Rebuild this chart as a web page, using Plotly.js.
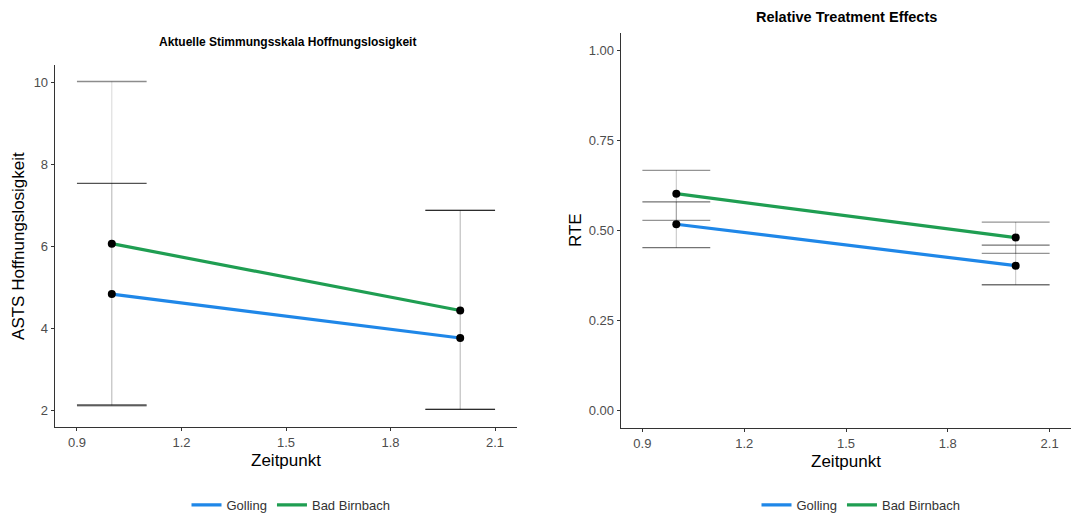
<!DOCTYPE html>
<html>
<head>
<meta charset="utf-8">
<script src="https://cdn.plot.ly/plotly-3.0.1.min.js"></script>
<style>html,body{margin:0;padding:0;background:#fff;}#chart{width:1081px;height:520px;}</style>
</head>
<body>
<div id="chart"></div>
<script>
// ---- data ----
const zeitpunkt = [1, 2];
const groups = ["Golling", "Bad Birnbach"];
// ASTS Hoffnungslosigkeit
const astsGolling = [4.84, 3.77];
const astsGollingLow = [2.14, 2.03];
const astsGollingHigh = [7.54, 6.88];
const astsBB = [6.07, 4.44];
const astsBBLow = [2.12, 2.03];
const astsBBHigh = [10.02, 6.88];
// Relative Treatment Effects
const rteGolling = [0.516, 0.401];
const rteGollingLow = [0.451, 0.348];
const rteGollingHigh = [0.578, 0.458];
const rteBB = [0.601, 0.479];
const rteBBLow = [0.527, 0.435];
const rteBBHigh = [0.666, 0.522];
const xTicks = [0.9, 1.2, 1.5, 1.8, 2.1];
const astsTicks = [2, 4, 6, 8, 10];
const rteTicks = [0, 0.25, 0.5, 0.75, 1.0];

const capHalf = 0.1;
const blue = "#1f87e8";
const green = "#1f9e52";
const font = "Liberation Sans, Arial, sans-serif";

// vertical part of the error bar (no caps)
function errTrace(y, lo, hi, xa, ya, color) {
  return {
    x: zeitpunkt, y: y, xaxis: xa, yaxis: ya, type: "scatter", mode: "markers",
    marker: {size: 1, color: "rgba(0,0,0,0)"}, showlegend: false, hoverinfo: "skip",
    error_y: {type: "data", symmetric: false,
      array: hi.map((v, i) => v - y[i]), arrayminus: y.map((v, i) => v - lo[i]),
      color: color, thickness: 1.1, width: 0}
  };
}
// caps of the error bar, built from the data arrays
function capTrace(lo, hi, xa, ya, color) {
  const xs = [], ys = [];
  zeitpunkt.forEach((xv, i) => {
    [lo[i], hi[i]].forEach(v => {
      xs.push(xv - capHalf, xv + capHalf, null);
      ys.push(v, v, null);
    });
  });
  return {x: xs, y: ys, xaxis: xa, yaxis: ya, type: "scatter", mode: "lines",
    line: {color: color, width: 1.3}, showlegend: false, hoverinfo: "skip", connectgaps: false};
}
function lineTrace(y, name, color, xa, ya, leg) {
  return {x: zeitpunkt, y: y, xaxis: xa, yaxis: ya, type: "scatter", mode: "lines",
    name: name, line: {color: color, width: 3.2}, legend: leg};
}
function ptTrace(y, xa, ya) {
  return {x: zeitpunkt, y: y, xaxis: xa, yaxis: ya, type: "scatter", mode: "markers",
    marker: {color: "#000", size: 8}, showlegend: false, hoverinfo: "x+y"};
}

const vCol = "rgba(0,0,0,0.14)";
const capG = "rgba(0,0,0,0.68)";
const capB = "rgba(0,0,0,0.45)";

const data = [
  errTrace(astsBB, astsBBLow, astsBBHigh, "x", "y", vCol),
  errTrace(astsGolling, astsGollingLow, astsGollingHigh, "x", "y", vCol),
  capTrace(astsBBLow, astsBBHigh, "x", "y", capB),
  capTrace(astsGollingLow, astsGollingHigh, "x", "y", capG),
  lineTrace(astsGolling, groups[0], blue, "x", "y", "legend"),
  lineTrace(astsBB, groups[1], green, "x", "y", "legend"),
  ptTrace(astsGolling, "x", "y"),
  ptTrace(astsBB, "x", "y"),
  errTrace(rteBB, rteBBLow, rteBBHigh, "x2", "y2", "rgba(0,0,0,0.22)"),
  errTrace(rteGolling, rteGollingLow, rteGollingHigh, "x2", "y2", "rgba(0,0,0,0.22)"),
  capTrace(rteBBLow, rteBBHigh, "x2", "y2", "rgba(0,0,0,0.42)"),
  capTrace(rteGollingLow, rteGollingHigh, "x2", "y2", "rgba(0,0,0,0.55)"),
  lineTrace(rteGolling, groups[0], blue, "x2", "y2", "legend2"),
  lineTrace(rteBB, groups[1], green, "x2", "y2", "legend2"),
  ptTrace(rteGolling, "x2", "y2"),
  ptTrace(rteBB, "x2", "y2")
];

const axBase = {
  showgrid: false, zeroline: false, showline: true, linecolor: "#333", linewidth: 1.3,
  ticks: "outside", ticklen: 3, tickcolor: "#333", tickwidth: 1,
  tickfont: {family: font, size: 13, color: "#4d4d4d"}, fixedrange: true
};
const titleFont = {family: font, size: 17, color: "#000"};

const layout = {
  width: 1081, height: 520, margin: {l: 0, r: 0, t: 0, b: 0},
  paper_bgcolor: "#fff", plot_bgcolor: "#fff", font: {family: font},
  xaxis: Object.assign({}, axBase, {domain: [55/1081, 517/1081], anchor: "y",
    range: [0.837, 2.163], tickvals: xTicks, ticktext: xTicks.map(v => v.toFixed(1)),
    title: {text: "Zeitpunkt", font: titleFont, standoff: 5}}),
  yaxis: Object.assign({}, axBase, {domain: [1 - 430/520, 1 - 66/520], anchor: "x",
    range: [1.61, 10.41], tickvals: astsTicks,
    title: {text: "ASTS Hoffnungslosigkeit", font: titleFont, standoff: 4}}),
  xaxis2: Object.assign({}, axBase, {domain: [621/1081, 1071/1081], anchor: "y2",
    range: [0.837, 2.163], tickvals: xTicks, ticktext: xTicks.map(v => v.toFixed(1)),
    title: {text: "Zeitpunkt", font: titleFont, standoff: 5}}),
  yaxis2: Object.assign({}, axBase, {domain: [1 - 431/520, 1 - 33/520], anchor: "x2",
    range: [-0.049, 1.048], tickvals: rteTicks, ticktext: rteTicks.map(v => v.toFixed(2)),
    title: {text: "RTE", font: titleFont, standoff: 2}}),
  annotations: [
    {text: "<b>Aktuelle Stimmungsskala Hoffnungslosigkeit</b>", xref: "paper", yref: "paper",
     x: 287/1081, y: 1 - 42/520, xanchor: "center", yanchor: "middle", showarrow: false,
     font: {family: font, size: 12, color: "#000"}},
    {text: "<b>Relative Treatment Effects</b>", xref: "paper", yref: "paper",
     x: 846/1081, y: 1 - 17/520, xanchor: "center", yanchor: "middle", showarrow: false,
     font: {family: font, size: 14.5, color: "#000"}}
  ],
  legend: {orientation: "h", x: 291/1081, xanchor: "center", y: 1 - 509/520, yanchor: "middle",
    font: {family: font, size: 13, color: "#333"}, bgcolor: "rgba(0,0,0,0)", itemwidth: 30},
  legend2: {orientation: "h", x: 861/1081, xanchor: "center", y: 1 - 509/520, yanchor: "middle",
    font: {family: font, size: 13, color: "#333"}, bgcolor: "rgba(0,0,0,0)", itemwidth: 30}
};

Plotly.newPlot("chart", data, layout, {displayModeBar: false, staticPlot: true});
</script>
</body>
</html>
